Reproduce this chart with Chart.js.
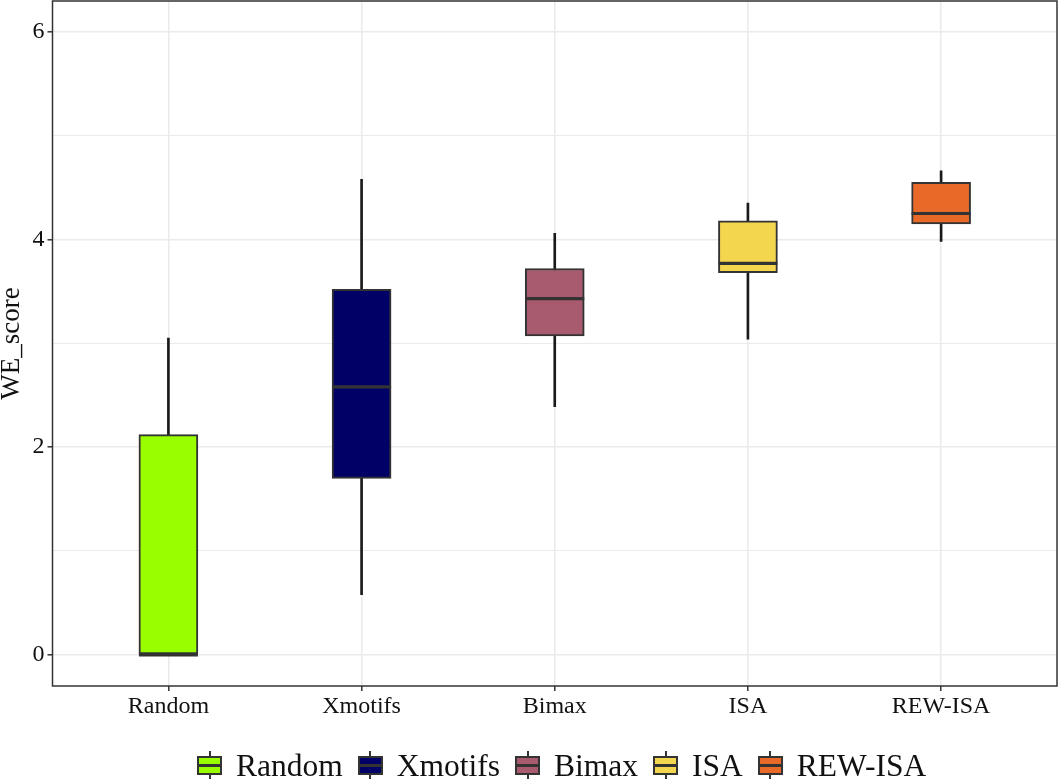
<!DOCTYPE html>
<html>
<head>
<meta charset="utf-8">
<script src="https://cdn.jsdelivr.net/npm/chart.js@4/dist/chart.umd.min.js"></script>
<style>
  html, body { margin: 0; padding: 0; background: #fff; }
  #wrap { position: relative; width: 1062px; height: 780px; }
  #c { position: absolute; left: 0; top: 0; }
  #legend {
    position: absolute; left: 197px; top: 749.6px; height: 31.5px;
    display: flex; align-items: center; white-space: nowrap;
    font-family: "Liberation Serif", "Times New Roman", serif; font-size: 31.5px; line-height: 31.5px; color: #111;
  }
  .item { display: flex; align-items: center; margin-right: 15px; }
  .key { position: relative; width: 25px; height: 28px; margin-right: 14px; }
  .key .wh { position: absolute; left: 11.5px; top: 0; width: 2px; height: 28px; background: #333; }
  .key .bx { position: absolute; left: 0; top: 4.5px; width: 21px; height: 15px; border: 2px solid #333; }
  .key .md { position: absolute; left: 0; top: 13px; width: 25px; height: 2.5px; background: #333; }
</style>
</head>
<body>
<div id="wrap">
  <canvas id="c" width="1062" height="780"></canvas>
  <div id="legend"></div>
</div>
<script>
const categories = ['Random', 'Xmotifs', 'Bimax', 'ISA', 'REW-ISA'];
const whiskerLow  = [0.00, 0.58, 2.39, 3.04, 3.98];
const q1          = [0.00, 1.70, 3.07, 3.68, 4.15];
const medians     = [0.00, 2.58, 3.43, 3.77, 4.25];
const q3          = [2.12, 3.52, 3.72, 4.18, 4.55];
const whiskerHigh = [3.05, 4.58, 4.06, 4.35, 4.66];
const fillColors  = ['#99FF00', '#000066', '#A85B6F', '#F3D54E', '#E96A28'];
const yTickValues = [0, 1, 2, 3, 4, 5, 6];
const yTickLabels = ['0', '', '2', '', '4', '', '6'];

const serif = '"Liberation Serif", "Times New Roman", serif';

const medianPlugin = {
  id: 'medianLines',
  afterDatasetsDraw(chart) {
    const ctx = chart.ctx;
    const xs = chart.scales.x, ys = chart.scales.y;
    const meta = chart.getDatasetMeta(0);
    ctx.save();
    ctx.strokeStyle = '#333333';
    ctx.lineWidth = 3.2;
    medians.forEach((m, i) => {
      const el = meta.data[i];
      const half = el.width / 2;
      const x = xs.getPixelForValue(i);
      const y = ys.getPixelForValue(m);
      ctx.beginPath();
      ctx.moveTo(x - half, y);
      ctx.lineTo(x + half, y);
      ctx.stroke();
    });
    ctx.restore();
  }
};

const panelBorder = {
  id: 'panelBorder',
  afterDraw(chart) {
    const a = chart.chartArea;
    const ctx = chart.ctx;
    ctx.save();
    ctx.strokeStyle = '#333333';
    ctx.lineWidth = 1.5;
    ctx.strokeRect(a.left, a.top, a.right - a.left, a.bottom - a.top);
    ctx.restore();
  }
};

new Chart(document.getElementById('c'), {
  type: 'bar',
  data: {
    datasets: [
      {
        label: 'box',
        data: categories.map((c, i) => ({ x: i, y: [q1[i], q3[i]] })),
        backgroundColor: fillColors,
        borderColor: '#333333',
        borderWidth: 2,
        borderSkipped: false,
        barThickness: 59,
        grouped: false,
        order: 0
      },
      {
        label: 'whisker',
        data: categories.map((c, i) => ({ x: i, y: [whiskerLow[i], whiskerHigh[i]] })),
        backgroundColor: '#1a1a1a',
        borderWidth: 0,
        barThickness: 2,
        grouped: false,
        order: 1
      }
    ]
  },
  options: {
    responsive: false,
    animation: false,
    devicePixelRatio: 1,
    layout: { padding: { top: 1, right: 5, left: 0, bottom: 0 } },
    plugins: { legend: { display: false }, tooltip: { enabled: false } },
    scales: {
      x: {
        type: 'linear',
        min: -0.6, max: 4.6,
        offset: false,
        afterBuildTicks(scale) { scale.ticks = categories.map((c, i) => ({ value: i })); },
        afterFit(scale) { scale.height = 94; scale.paddingLeft = 0; scale.paddingRight = 0; },
        ticks: {
          callback: (v) => categories[v] ?? '',
          font: { family: serif, size: 24 },
          color: '#111',
          padding: 1,
          maxRotation: 0,
          autoSkip: false
        },
        grid: {
          offset: false,
          color: '#EBEBEB',
          lineWidth: 1.6,
          tickColor: '#333',
          tickWidth: 1.5,
          tickLength: 5,
          drawTicks: true
        },
        border: { display: false }
      },
      y: {
        type: 'linear',
        min: -0.30, max: 6.296,
        afterBuildTicks(scale) { scale.ticks = yTickValues.map(v => ({ value: v })); },
        afterFit(scale) { scale.width = 52.5; scale.paddingTop = 0; scale.paddingBottom = 0; },
        ticks: {
          callback: (v) => yTickLabels[yTickValues.indexOf(v)] ?? '',
          font: { family: serif, size: 24 },
          color: '#111',
          padding: 3,
          autoSkip: false
        },
        grid: {
          color: '#EBEBEB',
          lineWidth: (ctx) => (ctx.tick && ctx.tick.value % 2 === 0) ? 1.6 : 1.0,
          tickColor: (ctx) => (ctx.tick && ctx.tick.value % 2 === 0) ? '#333' : 'rgba(0,0,0,0)',
          tickWidth: 1.5,
          tickLength: 5
        },
        border: { display: false },
        title: {
          display: true,
          text: 'WE_score',
          font: { family: serif, size: 27, lineHeight: 0.85 },
          color: '#111',
          padding: { top: 0, bottom: 0 }
        }
      }
    }
  },
  plugins: [medianPlugin, panelBorder]
});

const legend = document.getElementById('legend');
categories.forEach((c, i) => {
  const item = document.createElement('div');
  item.className = 'item';
  item.innerHTML = '<div class="key"><div class="wh"></div><div class="bx" style="background:' + fillColors[i] + '"></div><div class="md"></div></div><span>' + c + '</span>';
  legend.appendChild(item);
});
</script>
</body>
</html>
